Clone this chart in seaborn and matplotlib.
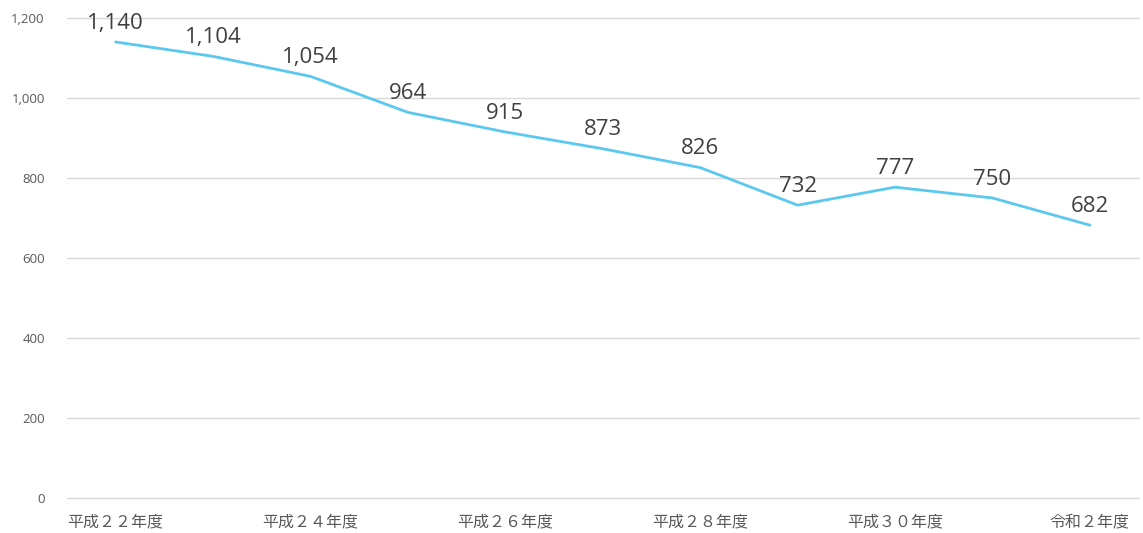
import numpy as np
import pandas as pd
import seaborn as sns
import matplotlib.pyplot as plt

# データ
years = ['平成２２年度', '平成２３年度', '平成２４年度', '平成２５年度', '平成２６年度',
         '平成２７年度', '平成２８年度', '平成２９年度', '平成３０年度', '令和元年度', '令和２年度']
values = [1140, 1104, 1054, 964, 915, 873, 826, 732, 777, 750, 682]
y_ticks = [0, 200, 400, 600, 800, 1000, 1200]

df = pd.DataFrame({'year': years, 'value': values})
df['pos'] = np.arange(len(df))

sns.set_style('white')
plt.rcParams['font.family'] = ['Open Sans', 'Noto Sans CJK JP', 'DejaVu Sans']

fig = plt.figure(figsize=(11.43, 5.33), dpi=100)
ax = fig.add_axes([0.0586, 0.0657, 0.9375, 0.9006])

sns.lineplot(data=df, x='pos', y='value', color='#5BC8F0', linewidth=2, ax=ax)

# データラベル
for i, v in enumerate(values):
    ax.annotate(f'{v:,}', (i, v), xytext=(0, 6), textcoords='offset points',
                ha='center', va='bottom', fontsize=16, color='#404040')

ax.set_xlim(-0.5, len(years) - 0.5)
ax.set_ylim(0, 1200)
ax.set_yticks(y_ticks)
ax.set_yticklabels([f'{t:,}' for t in y_ticks], fontsize=9.5, color='#595959')
ax.set_xticks(range(0, len(years), 2))
ax.set_xticklabels(years[::2], fontsize=11.5, color='#595959')
ax.tick_params(length=0)
ax.tick_params(axis='x', pad=12)
ax.tick_params(axis='y', pad=16)
ax.grid(axis='y', color='#d9d9d9', linewidth=1)
for gl in ax.get_ygridlines():
    gl.set_clip_on(False)
ax.set_axisbelow(True)
ax.set_xlabel('')
ax.set_ylabel('')
sns.despine(left=True, bottom=True)

fig.savefig('out.png', dpi=100)
